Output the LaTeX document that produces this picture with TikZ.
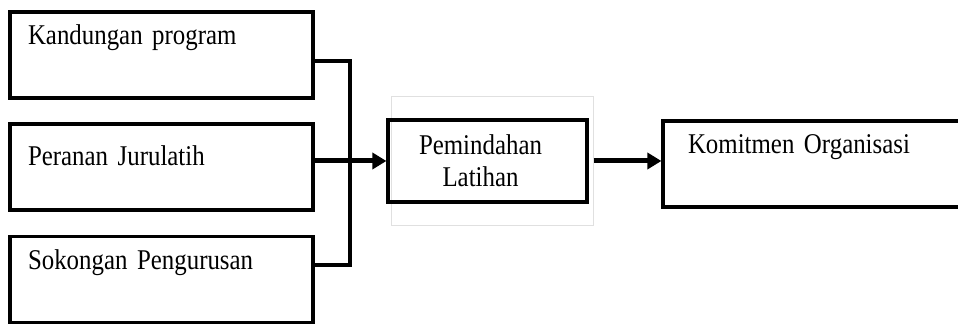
\documentclass[tikz,border=0pt]{standalone}
\usepackage{fontspec}
\setmainfont{Liberation Serif}[FakeStretch=0.87,WordSpace=0.75]
\usetikzlibrary{arrows.meta,positioning}
\tikzset{basic/.style={draw,rectangle,line width=1.6pt,font=\fontsize{14.3}{16.2}\selectfont}}
\tikzset{factor/.style={basic,minimum width=151.5pt,text width=133.5pt,align=left,inner xsep=9pt,inner ysep=7pt,text height=9.5pt,text depth=19.5pt}}
\tikzset{link/.style={draw,line width=2pt}}
\tikzset{arrow/.style={draw,line width=2.5pt,-{Triangle[length=7pt,width=8pt]}}}

\begin{document}
\begin{tikzpicture}[x=0.5pt,y=-0.5pt]
    \useasboundingbox (0,0) rectangle (958,324);
    \clip (0,0) rectangle (958,324);

    % three factors on the left
    \node[factor] (kand) at (161.5,55) {Kandungan program};
    \node[factor,text height=14pt,text depth=15pt] (peran) at (161.5,167) {Peranan Jurulatih};
    \node[factor] (soko) at (161.5,279.5) {Sokongan Pengurusan};

    % middle box with its light frame
    \node[draw=black!12,line width=0.5pt,minimum width=101pt,minimum height=64.5pt] (frame) at (492,161.5) {};
    \node[basic,minimum width=99.5pt,minimum height=41pt,text width=90pt,align=center] (pind) at (487.5,161) {\hspace*{-7pt}Pemindahan\\\hspace*{-7pt}Latihan};

    % outcome, runs off the right edge
    \node[factor,minimum width=168.5pt,text width=143.5pt,inner xsep=12.5pt] (komit) at (831.5,164) {Komitmen Organisasi};

    \coordinate (bus) at (350,161);
        \path[link] ([yshift=-3pt]kand.east) -| (bus);
        \path[link] ([yshift=7.25pt]soko.east) -| (bus);
        \path[arrow] ([yshift=3pt]peran.east) -- (pind.west |- bus);
        \path[arrow] (frame.east |- bus) -- (komit.west |- bus);
\end{tikzpicture}
\end{document}
